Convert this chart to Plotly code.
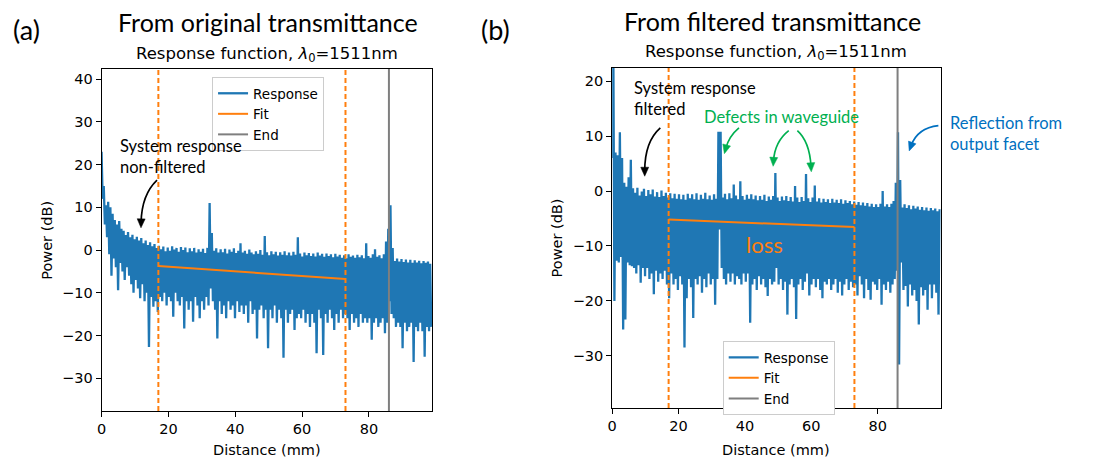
import math
import plotly.graph_objects as go

W, H = 1093, 461

# ---------------- data ----------------
DX = 0.33  # sampling step of the distance axis (mm)

a_resp = [
    23, 12, 15, 6, 10.5, 3, 11.3, -1, 10, -6,
    8.5, -2, 7, -4, 6, -9.4, 6.8, -3, 5, -5,
    4.5, -7, 3.5, -4, 4.2, -6, 3, -8, 3.6, -10,
    2.5, -7, 3.1, -9, 2.2, -11.3, 2.8, -8, 1.6, -12,
    2.2, -10, 1.2, -22.7, 1.8, -11, 0.9, -13.3, 1.4, -12,
    0.5, -14.5, 1.0, -11, 0.2, -12, 0.8, -10, -0.3, -13,
    0.6, -11, -0.2, -12, 0.9, -15.6, 0.1, -10, 0.5, -12,
    -0.4, -13, 0.7, -11, 0.0, -18.4, 0.6, -12, -0.5, -14,
    0.4, -12, -0.3, -16.8, 0.5, -11, -0.6, -13, 0.2, -16,
    -0.4, -12, 0.3, -14, -0.7, -11, 0.5, -13, 11, -9,
    4, -12, -0.2, -14, 0.4, -20.7, -0.6, -12, 0.2, -15,
    -0.5, -13, 0.3, -16, -0.8, -12, 0.1, -14, -0.4, -13,
    0.4, -16, -0.7, -12, -0.2, -14.5, 1.6, -13, -0.6, -15,
    -0.2, -13, -0.9, -17, 0.1, -12, -0.6, -15, -1.0, -14,
    -0.3, -20.7, -0.9, -14, 0.0, -13, -1.1, -16, 3.3, -14,
    -0.5, -23, -1.2, -14, -0.3, -16, -1.0, -13, -0.4, -17,
    -1.3, -14, -0.5, -16, -1.1, -25.2, -0.3, -14, -1.2, -17,
    -0.6, -15, -1.3, -14, -0.4, -18.75, -1.1, -16, 3.0, -15,
    -0.8, -16, -1.5, -14, -0.6, -17, -1.2, -15, -0.7, -18,
    -1.4, -15, -0.8, -17, -1.5, -24.2, -0.6, -14, -1.3, -16,
    -0.9, -24.6, -1.6, -15, -0.8, -17, -1.4, -14, -1.0, -16,
    -1.7, -18.75, -0.9, -15, -1.5, -17, -1.1, -14, -1.8, -16,
    -1.2, -15, -1.9, -16, -1.0, -18.75, -1.6, -15, -1.3, -17,
    -1.8, -16, -1.1, -18, -1.7, -15, -1.2, -17, -1.9, -16,
    1.6, -17, -1.4, -16, -1.8, -21, -1.0, -17, 0.2, -16,
    -1.6, -18, -1.2, -17, -1.9, -16, -1.0, -19.5, 2.0, -17,
    5.0, -12, 10.5, -15, 0.5, -16, -2.6, -18, -2.0, -17,
    -2.7, -18, -2.1, -23, -2.8, -17, -2.2, -19, -2.9, -18,
    -2.3, -17, -3.0, -26.2, -2.4, -18, -2.9, -19, -2.5, -17,
    -3.1, -19, -2.6, -25, -3.0, -18, -2.7, -19, -3.2, -18,
]

b_resp = [
    6, 28, -20, 7, -12.7, 6.5, -13, 10.7, -12, 6,
    -25.2, 1.5, -23.4, 0.8, -13, 2.5, -13.5, 5.7, -13.7, 0.5,
    -14, -0.3, -15, 0.6, -13.5, -0.8, -16.7, -0.1, -14, 0.4,
    -15.5, -0.9, -14, 0.2, -16, -0.6, -15, 0.3, -18.8, -1.0,
    -14.5, -0.2, -16.5, -1.1, -15, 0.1, -16, -0.9, -14.5, -0.3,
    -17, -1.2, -19.5, -0.4, -15, -1.3, -17, -0.5, -16, -1.4,
    -18, -0.6, -15.5, -1.5, -17, -0.7, -28.5, -1.6, -19.5, -0.5,
    -16, -1.3, -17.5, -0.6, -23.1, -1.5, -16, -0.4, -17, -1.6,
    -15.5, -0.7, -18.5, -1.4, -16, -0.3, -17.5, -1.5, -15, -0.8,
    -17, -1.6, -16, -0.6, -20.7, -1.4, -16, 10.8, -7, 10.8,
    -14, -1.2, -16, -0.5, -17, -1.5, -15, -0.4, -16.5, -1.3,
    -15, 1.2, -17, -0.8, -15.5, -1.5, -16, 1.8, -17, -0.9,
    -15, -1.6, -16.5, -0.7, -15, -1.4, -24, -0.6, -17, -1.5,
    -16, -0.8, -18, -1.7, -15.5, -0.9, -17, -1.6, -16, -0.7,
    -17.5, -1.8, -19.1, -1.0, -16, -1.6, -17, -0.9, -16.5, 3.3,
    -14, -1.2, -17, -1.8, -16, -1.0, -18, -1.7, -16.5, -0.9,
    -22.5, -1.8, -17, -1.1, -16, -1.9, -17.5, 0.9, -23.3, -1.2,
    -17, -2.0, -16, -1.1, -18, -1.8, -16.5, 3.1, -15, -1.3,
    -19, -2.0, -17, -1.2, -16, 1.0, -17.5, -1.9, -16, -1.3,
    -18, -2.1, -19.5, -1.4, -16.5, -2.0, -17, -1.5, -16, -2.2,
    -18, -1.4, -17, -2.1, -16, -1.6, -18.5, -2.2, -16.5, -1.5,
    -19, -2.3, -17, -1.7, -16, -2.2, -18, -1.8, -16.5, -2.4,
    -17.5, -1.9, -17, -2.5, -19, -2.0, -15.5, -2.6, -17, -2.1,
    -19.5, -2.7, -16, -2.2, -18, -2.8, -19.8, -2.3, -16.5, -2.9,
    -17, -2.4, -18, -2.9, -16, -2.3, -20.7, 0.0, -17, -2.8,
    -18, -2.4, -16.5, -2.9, -18.5, -2.3, -17, -1.8, -16, 1.5,
    -14.5, 10.7, -31.6, 2.0, -13, -3.0, -18, -2.4, -17.3, -3.1,
    -21, -2.6, -17, -3.3, -19, -2.7, -18, -3.2, -20, -2.8,
    -24.3, -3.4, -17.5, -2.9, -19, -3.5, -18, -3.0, -21.6, -3.6,
    -17, -3.1, -19.5, -3.5, -17, -3.2, -18.5, -3.7, -22.5, -3.3,
]

fit_x = [17, 73]
a_fit_y = [-3.75, -6.8]
b_fit_y = [-5.2, -6.55]
end_x = 86

a_yrange = [-37.7, 42.4]
b_yrange = [-39.5, 22.4]
a_xrange = [0, 98.9]
b_xrange = [0, 99.0]
x_ticks = [0, 20, 40, 60, 80]
a_yticks = [-30, -20, -10, 0, 10, 20, 30, 40]
b_yticks = [-30, -20, -10, 0, 10, 20]

BLUE, ORANGE, GREY = "#1f77b4", "#ff7f0e", "#7f7f7f"
GREEN, LBLUE = "#00b050", "#0070c0"
TICKFONT = dict(family="DejaVu Sans", size=14.5, color="black")
ANNFONT = "Lato"

# ---------------- geometry (pixels) ----------------
A_L, A_R, A_T, A_B = 97, 429, 69, 411
B_L, B_R, B_T, B_B = 610, 940, 68, 408
GEOM = {
    "x": (A_L, A_R, A_T, A_B, a_xrange, a_yrange, "y"),
    "x2": (B_L, B_R, B_T, B_B, b_xrange, b_yrange, "y2"),
}


def px(x):
    return x / W


def py(y):
    return 1 - y / H


fig = go.Figure()

for (resp, fy, xa, ya, leg, yr) in [
    (a_resp, a_fit_y, "x", "y", "legend", a_yrange),
    (b_resp, b_fit_y, "x2", "y2", "legend2", b_yrange),
]:
    fig.add_trace(go.Scatter(x0=0, dx=DX, y=resp, mode="lines", name="Response",
                             line=dict(color=BLUE, width=2.3), xaxis=xa, yaxis=ya,
                             legend=leg))
    fig.add_trace(go.Scatter(x=fit_x, y=fy, mode="lines", name="Fit",
                             line=dict(color=ORANGE, width=2), xaxis=xa, yaxis=ya,
                             legend=leg))
    fig.add_trace(go.Scatter(x=[end_x, end_x], y=yr, mode="lines", name="End",
                             line=dict(color=GREY, width=2), xaxis=xa, yaxis=ya,
                             legend=leg))
    for fx in fit_x:
        fig.add_shape(type="line", xref=xa, yref=ya + " domain", x0=fx, x1=fx, y0=0, y1=1,
                      line=dict(color=ORANGE, width=2, dash="5px,3px"))

axis_common = dict(showline=True, mirror=True, linecolor="black", linewidth=1,
                   ticks="outside", ticklen=5, tickwidth=1, tickcolor="black",
                   showgrid=False, zeroline=False, tickfont=TICKFONT)

legend_common = dict(xanchor="left", yanchor="top", bgcolor="white",
                     bordercolor="#cccccc", borderwidth=1, itemwidth=30, tracegroupgap=0,
                     font=dict(family="DejaVu Sans", size=13.5, color="black"))

fig.update_layout(
    width=W, height=H, margin=dict(l=0, r=0, t=0, b=0),
    paper_bgcolor="white", plot_bgcolor="white",
    xaxis=dict(domain=[px(A_L), px(A_R)], range=a_xrange, tickvals=x_ticks, anchor="y", **axis_common),
    yaxis=dict(domain=[py(A_B), py(A_T)], range=a_yrange, tickvals=a_yticks, anchor="x", **axis_common),
    xaxis2=dict(domain=[px(B_L), px(B_R)], range=b_xrange, tickvals=x_ticks, anchor="y2", **axis_common),
    yaxis2=dict(domain=[py(B_B), py(B_T)], range=b_yrange, tickvals=b_yticks, anchor="x2", **axis_common),
    legend=dict(x=px(208), y=py(77), **legend_common),
    legend2=dict(x=px(721), y=py(341), **legend_common),
    showlegend=True,
)

ann = []


def text(t, x, y, size, family=ANNFONT, color="black", xanchor="center", align="center", angle=0):
    ann.append(dict(text=t, x=px(x), y=py(y), xref="paper", yref="paper", showarrow=False,
                    xanchor=xanchor, yanchor="middle", align=align, textangle=angle,
                    font=dict(family=family, size=size, color=color)))


text("(a)", 22, 30, 27)
text("(b)", 493, 30, 27)
text("From original transmittance", 264, 22, 25)
text("From filtered transmittance", 771, 21, 25)
sub = "Response function, <i>λ</i><sub>0</sub>=1511nm"
text(sub, (A_L + A_R) / 2, 55, 16.5, family="DejaVu Sans")
text(sub, (B_L + B_R) / 2, 53, 16.5, family="DejaVu Sans")
text("Power (dB)", 42, (A_T + A_B) / 2, 14.5, family="DejaVu Sans", angle=-90)
text("Power (dB)", 555, (B_T + B_B) / 2, 14.5, family="DejaVu Sans", angle=-90)
text("Distance (mm)", (A_L + A_R) / 2, 450, 14.5, family="DejaVu Sans")
text("Distance (mm)", (B_L + B_R) / 2, 450, 14.5, family="DejaVu Sans")
text("System response<br>non-filtered", 114, 156, 16.5, xanchor="left", align="left")
text("System response<br>filtered", 630, 98, 16.5, xanchor="left", align="left")
text("Defects in waveguide", 780, 117, 16.5, color=GREEN)
text("Reflection from<br>output facet", 947, 134, 16.5, color=LBLUE, xanchor="left", align="left")

ann.append(dict(text="loss", x=46, y=-9.8, xref="x2", yref="y2", showarrow=False,
                font=dict(family=ANNFONT, size=22, color=ORANGE)))


def to_px(xr, x, y):
    L, R, T, B, xrg, yrg, _ = GEOM[xr]
    return (L + (x - xrg[0]) / (xrg[1] - xrg[0]) * (R - L),
            B - (y - yrg[0]) / (yrg[1] - yrg[0]) * (B - T))


def to_data(xr, X, Y):
    L, R, T, B, xrg, yrg, _ = GEOM[xr]
    return (xrg[0] + (X - L) / (R - L) * (xrg[1] - xrg[0]),
            yrg[0] + (B - Y) / (B - T) * (yrg[1] - yrg[0]))


# curved arrows: (xref, start, control, end, color)
arrows = [
    ("x", (16.6, 16.4), (12.0, 13.0), (11.8, 5.2), "black"),
    ("x2", (14.5, 11.5), (9.8, 9.0), (9.8, 2.7), "black"),
    ("x2", (38.2, 11.5), (35.2, 10.0), (33.8, 6.8), GREEN),
    ("x2", (53.2, 11.0), (49.0, 9.0), (48.5, 4.5), GREEN),
    ("x2", (55.8, 11.0), (59.5, 9.0), (60.0, 3.5), GREEN),
    ("x2", (98.3, 11.9), (92.0, 11.5), (89.5, 7.3), LBLUE),
]
for xr, s, c, e, col in arrows:
    yr = GEOM[xr][6]
    ex, ey = to_px(xr, *e)
    cx, cy = to_px(xr, *c)
    dx, dy = ex - cx, ey - cy
    n = math.hypot(dx, dy)
    ux, uy = dx / n, dy / n
    hl, hw = 9.0, 4.0
    bx, by = ex - ux * hl, ey - uy * hl
    p1 = to_data(xr, bx - uy * hw, by + ux * hw)
    p2 = to_data(xr, bx + uy * hw, by - ux * hw)
    stop = to_data(xr, ex - ux * hl * 0.6, ey - uy * hl * 0.6)
    fig.add_shape(type="path", xref=xr, yref=yr,
                  path=f"M {s[0]},{s[1]} Q {c[0]},{c[1]} {stop[0]},{stop[1]}",
                  line=dict(color=col, width=1.7))
    fig.add_shape(type="path", xref=xr, yref=yr,
                  path=f"M {e[0]},{e[1]} L {p1[0]},{p1[1]} L {p2[0]},{p2[1]} Z",
                  fillcolor=col, line=dict(color=col, width=0.5))

fig.update_layout(annotations=ann)
fig.write_html("out.html")
